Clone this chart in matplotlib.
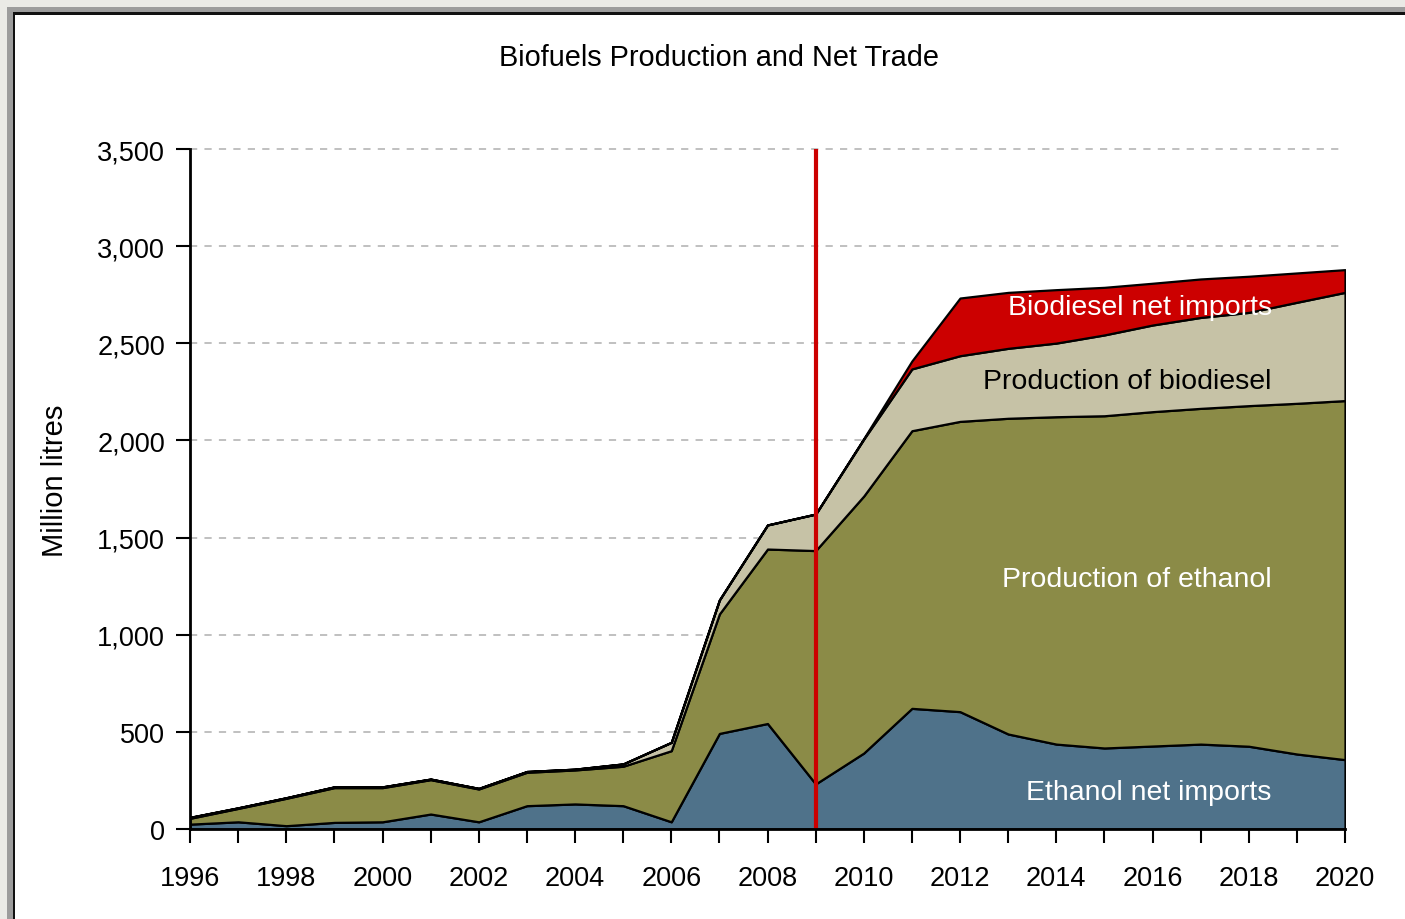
import matplotlib.pyplot as plt
from matplotlib.patches import Rectangle
from matplotlib.ticker import FuncFormatter
import numpy as np


YEARS = list(range(1996, 2021))

ETHANOL_NET_IMPORTS = [25, 37, 17, 34, 37, 77, 37, 120, 129, 120, 37, 492, 543,
                       232, 391, 621, 604, 489, 437, 417, 427, 437, 426, 386, 357]
ETHANOL_PRODUCTION = [30, 69, 141, 179, 176, 177, 169, 172, 175, 203, 366, 615, 898,
                      1201, 1323, 1429, 1494, 1625, 1685, 1710, 1721, 1728, 1753, 1805, 1848]
BIODIESEL_PRODUCTION = [5, 3, 3, 4, 4, 3, 3, 4, 4, 12, 43, 72, 124,
                        188, 293, 318, 338, 360, 379, 416, 446, 468, 480, 520, 557]
BIODIESEL_NET_IMPORTS = [0, 0, 0, 0, 0, 0, 0, 0, 0, 0, 0, 0, 0,
                         0, 3, 41, 297, 288, 275, 245, 215, 198, 186, 151, 117]

SERIES = [
    ("Ethanol net imports", ETHANOL_NET_IMPORTS, "#4F728A", "white", 190),
    ("Production of ethanol", ETHANOL_PRODUCTION, "#8B8B47", "white", 1287),
    ("Production of biodiesel", BIODIESEL_PRODUCTION, "#C6C2A6", "black", 2306),
    ("Biodiesel net imports", BIODIESEL_NET_IMPORTS, "#CC0000", "white", 2687),
]

PROJECTION_START = 2009
FONT = ["Liberation Sans Narrow", "Liberation Sans", "DejaVu Sans"]

plt.rcParams["font.family"] = FONT

W, H = 1405, 920
fig = plt.figure(figsize=(W / 100, H / 100), dpi=100, facecolor="#EAEAE6")


def frame_rect(x0, y0, color):
    # rectangle from pixel (x0, y0) measured from top-left, running off the right/bottom
    fig.patches.append(
        Rectangle((x0 / W, -0.1), 1.2, 1.1 - y0 / H, transform=fig.transFigure,
                  facecolor=color, edgecolor="none", zorder=-10)
    )


frame_rect(7, 8, "#9C9C9C")
frame_rect(12.5, 13, "#111111")
frame_rect(15, 15.5, "white")

ax = fig.add_axes([190 / W, 1 - 830 / H, 1155 / W, 680 / H])
ax.set_facecolor("none")

values = [s[1] for s in SERIES]
colors = [s[2] for s in SERIES]
ax.stackplot(YEARS, *values, colors=colors, edgecolor="black", linewidth=1.6, zorder=2)

ax.axvline(PROJECTION_START, ymin=0, ymax=1, color="#CC0000", linewidth=3, zorder=4)

for label, _, _, txt_color, y in SERIES:
    ax.text(2018.48, y, label, color=txt_color, fontsize=20.5, ha="right",
            va="center", zorder=5)

ax.set_xlim(1996, 2020)
ax.set_ylim(0, 3500)

ax.set_yticks(np.arange(0, 3501, 500))
ax.yaxis.set_major_formatter(FuncFormatter(lambda v, p: f"{int(v):,}"))
ax.set_xticks(range(1996, 2021, 2))
ax.set_xticks(range(1997, 2021, 2), minor=True)

ax.tick_params(axis="y", direction="out", length=10, width=1.5, pad=8,
               labelsize=19.5, colors="black")
ax.tick_params(axis="x", which="both", direction="out", length=10, width=1.5,
               pad=16, labelsize=19.5)

for v in range(500, 3501, 500):
    ax.plot([1996, 2019.9], [v, v], color="#BBBBBB", linewidth=1.3,
            linestyle=(0, (4, 4)), zorder=1, clip_on=False)

for side in ["top", "right"]:
    ax.spines[side].set_visible(False)
for side in ["left", "bottom"]:
    ax.spines[side].set_linewidth(2)
    ax.spines[side].set_zorder(6)

fig.text(719 / W, 1 - 58 / H, "Biofuels Production and Net Trade", ha="center",
         va="center", fontsize=20.8)
fig.text(55 / W, 1 - 481 / H, "Million litres", rotation=90, ha="center",
         va="center", fontsize=21)

fig.savefig("out.png", dpi=100, facecolor=fig.get_facecolor())
